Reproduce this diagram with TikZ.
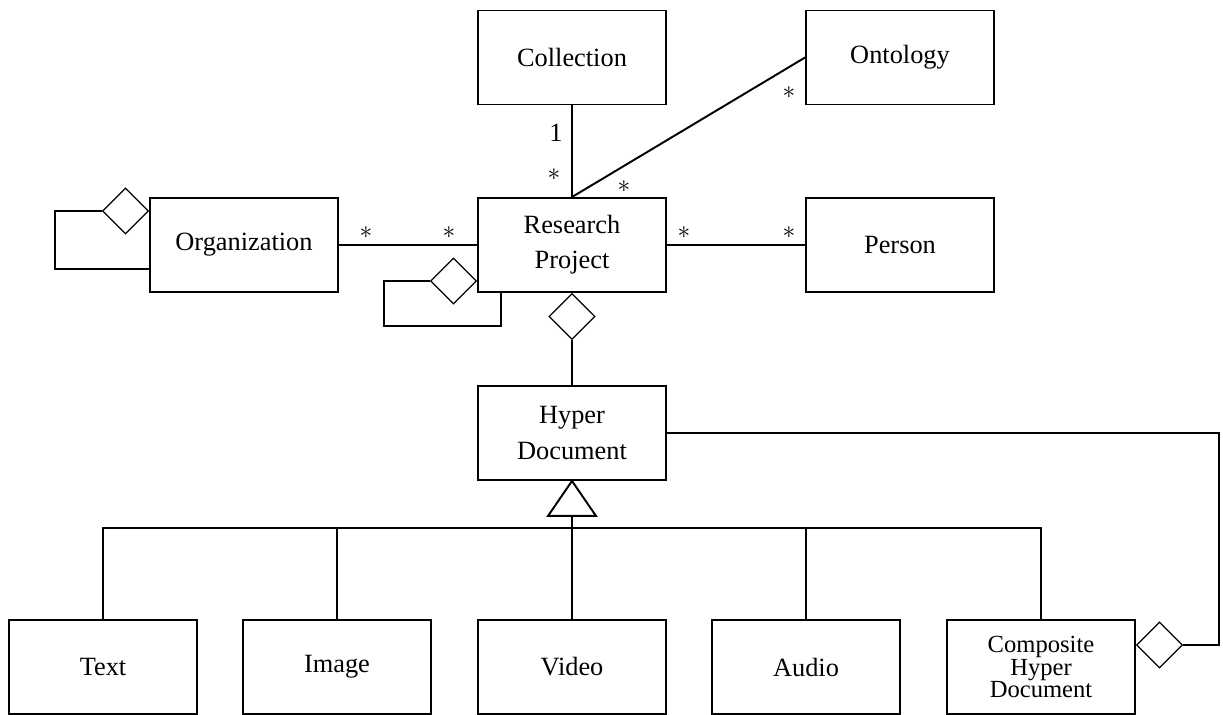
\documentclass[tikz,border=0pt]{standalone}
\usepackage{fontspec}
\setmainfont{Liberation Serif}
\usetikzlibrary{calc}
\usetikzlibrary{shapes.geometric, positioning}
\newcommand{\mult}[4]{ % #1: name, #2: x, #3: y, #4: label
  \node[multlabel] (#1) at (#2,#3) {#4};
}

\begin{document}
\begin{tikzpicture}[x=0.02cm, y=-0.02cm, line width=1.1pt,
  class/.style={draw, rectangle, minimum width=3.76cm, minimum height=1.88cm,
    align=center, inner sep=0pt, font=\fontsize{15}{20}\selectfont},
  agg/.style={draw, diamond, aspect=1, minimum size=0.92cm, inner sep=0pt,
    line width=0.7pt, fill=white},
  multlabel/.style={font=\fontsize{15}{18}\selectfont, inner sep=1pt}]

\useasboundingbox (0,0) rectangle (1223,715);

% Classes, top row
\node[class] (coll) at (572,57.5) {Collection};
\node[class] (onto) at (900,57.5) {Ontology};

% Classes, middle row
\node[class] (org) at (244,245) {Organization};
\node[class] (rp) at (572,245) {Research\\Project};
\node[class] (pers) at (900,245) {Person};

% Hyper document
\node[class] (hd) at (572,433) {Hyper\\Document};

% Subclasses, bottom row
\node[class] (text) at (103,667) {Text};
\node[class] (image) at (337,667) {Image};
\node[class] (video) at (572,667) {Video};
\node[class] (audio) at (806,667) {Audio};
\node[class, font=\fontsize{14}{13}\selectfont] (comp) at (1041,667) {Composite\\Hyper\\Document};

% Aggregation diamonds
\node[agg, anchor=east] (orgd) at (org.west |- 0,211) {};
\node[agg, anchor=east] (rpd) at (rp.west |- 0,281) {};
\node[agg, anchor=north] (hdd) at (rp.south) {};
\node[agg, anchor=west] (compd) at (comp.east |- 0,645) {};

% Associations
\draw (coll) -- (rp);
\draw (rp.north) -- (onto.west);
\draw (org) -- (rp);
\draw (rp) -- (pers);

% Self loops
\coordinate (orgloop) at (55,269);
\draw (orgd.west) -| (orgloop) -- (org.west |- orgloop);
\coordinate (rploop) at (384,326);
\draw (rpd.west) -| (rploop) -| ($(rp.south west)+(24,0)$);

% Whole-part links
\draw (hdd.south) -- (hd.north);
\coordinate (corner) at (1219,0);
\draw (hd.east) -| (corner |- compd.east) -- (compd.east);

% Generalization
\draw (hd.south) -- ++(24,35) -- ++(-48,0) -- cycle;
\coordinate (genbase) at ($(hd.south)+(0,35)$);
\coordinate (bus) at ($(hd.south)+(0,47)$);
\draw (genbase) -- (video.north);
\draw (text.north) |- (comp.north |- bus) -- (comp.north);
\foreach \n in {image, audio}
{
    \draw (\n.north) -- (\n.north |- bus);
}

% Multiplicities
\mult{m1}{556}{133}{1}
\mult{m2}{554}{175}{$\ast$}
\mult{m3}{624}{187}{$\ast$}
\mult{m4}{789}{93}{$\ast$}
\mult{m5}{366}{233}{$\ast$}
\mult{m6}{449}{233}{$\ast$}
\mult{m7}{684}{233}{$\ast$}
\mult{m8}{789}{233}{$\ast$}

\end{tikzpicture}
\end{document}
